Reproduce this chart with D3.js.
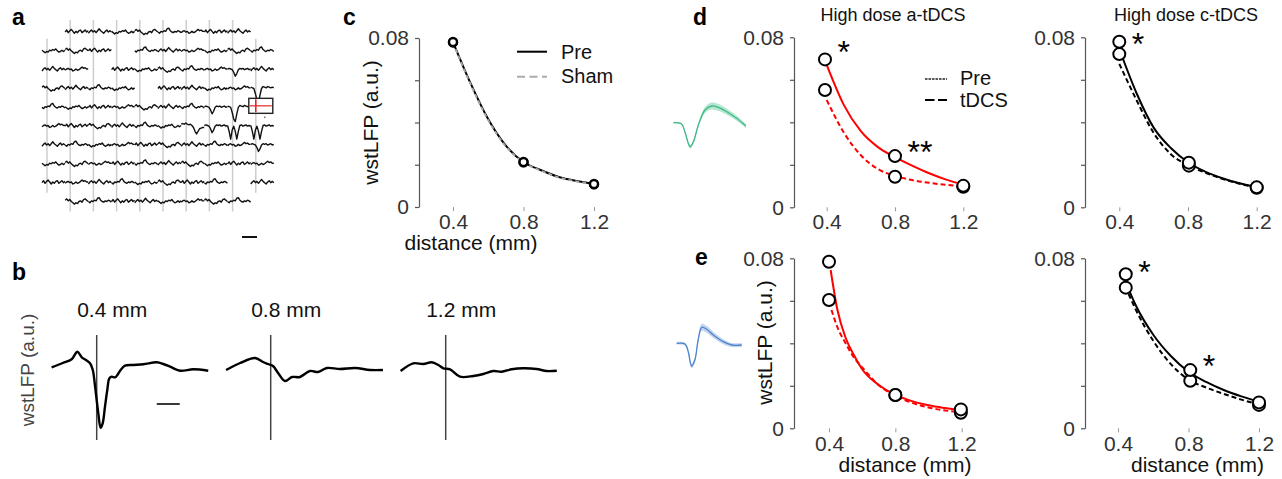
<!DOCTYPE html>
<html>
<head>
<meta charset="utf-8">
<script src="https://cdn.jsdelivr.net/npm/d3@7"></script>
<style>
  body { margin: 0; background: #fff; }
  svg { display: block; }
</style>
</head>
<body>
<script>
// ---------- panel a: array traces (one small template per electrode, up = positive)
var aNoise0 = [0, 1.5, -0.5, 1, 2, 0.5, -1, 0.5, -0.5, 1, 1.5, -0.5, 0.5, 1.5, 0, 1];
var aNoise1 = [-1, 0.5, 1.5, 0, 1, -0.5, 1, 2.5, 1, 0, -1, 0.5, 1.5, 0, 1, 0];
var aNoise2 = [0.5, -0.5, -1.5, -0.5, -1, 0.5, 0, 1, 0.5, 1.5, 0, -1, -0.5, 0.5, -0.5, 0.5];
var aNoise3 = [1, 2, 0.5, 1.5, 0, -1, -2, -1, -1.5, 0, 0.5, -0.5, 1.5, 2, 1, 0];
var aNoise4 = [0, -1, 0.5, 0, 1, 0.5, 2.5, 3, 1, 0, -0.5, 0.5, 0, 1, 0.5, -0.5];
var aNoise5 = [-0.5, 0.5, 1, 0, 0.5, -1, -0.5, 0.5, -0.5, 0, 1, 2, 1, 1.5, 0.5, 0.5];
var aSpike  = [1, 0.5, 0, -4, -9, -11, -5, 0, 1.5, 1, 0.5, 1.5, 1, 0.5, 1, 0.5];
var aDouble = [0.5, -4, -10, -3, 0, -4, -10, -4, 0.5, 1, 0, 0.5, 1, 0, 0.5, 0];
var aDip    = [0.5, 1, 0.5, 0, -2, -5, -3, 0, 1, 0.5, 1, 0, 0.5, 1, 0, 0.5];
var aDrop   = [1.5, 2, 1.5, 2.5, 1.5, 1, 1.5, 0.5, -1, -4, -6, -4, -2, -1.5, -1, -1];
var aLayout = [
  ".01234501.",
  "230.415234",
  "15.02345C1",
  "3142.0125A",
  "4205314CAR",
  "503142DCBB",
  "142503145C",
  "2350413205",
  "05142304.1",
  ".34012534."
];

// ---------- panel b: spike-triggered LFP at three distances
var bLabels = ["0.4 mm", "0.8 mm", "1.2 mm"];
var bTime1 = [-1.96, -1.47, -1.09, -0.84, -0.65, -0.47, -0.29, -0.17, -0.07, 0.07, 0.17, 0.26, 0.36, 0.46,
              0.55, 0.65, 0.80, 0.90, 1.04, 1.23, 1.59, 2.03, 2.61, 2.90, 3.19, 3.62, 4.20, 4.85];
var bAmp1  = [0, 0.43, 0.8, 1.56, 1.0, 0.73, 0.4, -0.27, -1.94, -4.6, -6.04, -5.6, -3.94, -2.27,
              -1.1, -0.94, -1.0, -0.77, -0.27, 0.16, 0.23, 0.3, 0.5, 0.33, 0.06, -0.34, -0.2, -0.34];
var bTime2 = [-1.94, -1.33, -0.68, -0.33, -0.12, 0.1, 0.32, 0.62, 0.93, 1.27, 1.71, 2.06, 2.45, 3.01, 3.67, 4.32, 4.88];
var bAmp2  = [-0.27, 0.43, 0.93, 0.53, 0.33, 0.13, -0.57, -1.37, -0.97, -0.97, -0.37, -0.47, -0.07, -0.17, -0.07, -0.27, -0.27];
var bTime3 = [-1.96, -1.41, -0.97, -0.61, -0.32, -0.1, 0.19, 0.62, 1.2, 1.64, 2.07, 2.43, 2.87, 3.37, 3.95, 4.39, 4.83];
var bAmp3  = [-0.37, 0.4, 0.33, 0.5, 0.23, -0.1, -0.2, -0.94, -0.87, -0.67, -0.37, -0.44, -0.2, -0.1, -0.17, -0.37, -0.34];

// ---------- panels c-e: wstLFP vs distance
var yTicks = [0, 0.02, 0.04, 0.06, 0.08];
var yTickLabels = ["0", "", "", "", "0.08"];
var xTicks = [0.4, 0.8, 1.2];
var xTickLabels = ["0.4", "0.8", "1.2"];
var fitGrid = [0.4, 0.5, 0.6, 0.7, 0.8, 0.9, 1.0, 1.1, 1.2];

var cDist = [0.4, 0.8, 1.2];
var cPre  = [0.0781, 0.0213, 0.0109];
var cSham = [0.0779, 0.0212, 0.0107];
var cFitPre  = [0.0781, 0.0585, 0.0415, 0.0290, 0.0213, 0.0174, 0.0142, 0.0123, 0.0109];
var cFitSham = [0.0778, 0.0581, 0.0411, 0.0287, 0.0211, 0.0172, 0.0140, 0.0121, 0.0107];

var dADist = [0.39, 0.8, 1.2];
var dAPre  = [0.0696, 0.0241, 0.0101];
var dATdcs = [0.0552, 0.0144, 0.0097];
var dAFitPre  = [0.0670, 0.0482, 0.0358, 0.0283, 0.0236, 0.0196, 0.0160, 0.0130, 0.0107];
var dAFitTdcs = [0.0505, 0.0352, 0.0245, 0.0180, 0.0148, 0.0128, 0.0115, 0.0106, 0.0099];

var dCDist = [0.4, 0.805, 1.2];
var dCPre  = [0.0779, 0.0210, 0.0094];
var dCTdcs = [0.0721, 0.0196, 0.0092];
var dCFitPre  = [0.0745, 0.0538, 0.0375, 0.0279, 0.0212, 0.0168, 0.0137, 0.0113, 0.0095];
var dCFitTdcs = [0.0675, 0.0505, 0.0350, 0.0250, 0.0198, 0.0163, 0.0134, 0.0111, 0.0093];

var eADist = [0.4, 0.8, 1.195];
var eAPre  = [0.0784, 0.0157, 0.0089];
var eATdcs = [0.0604, 0.0157, 0.0073];
var eAFitPreX  = [0.41, 0.45, 0.5, 0.55, 0.6, 0.7, 0.8, 0.9, 1.0, 1.1, 1.2];
var eAFitPre   = [0.0745, 0.0560, 0.0426, 0.0345, 0.0278, 0.0204, 0.0157, 0.0128, 0.0108, 0.0095, 0.0085];
var eAFitTdcsX = [0.415, 0.45, 0.5, 0.55, 0.6, 0.7, 0.8, 0.9, 1.0, 1.1, 1.2];
var eAFitTdcs  = [0.0557, 0.0477, 0.0400, 0.0333, 0.0287, 0.0203, 0.0153, 0.0120, 0.0098, 0.0084, 0.0075];

var eCDist = [0.444, 0.81, 1.2];
var eCPre  = [0.0725, 0.0274, 0.0122];
var eCTdcs = [0.0662, 0.0224, 0.0110];
var eCFitPreX  = [0.45, 0.5, 0.6, 0.7, 0.8, 0.9, 1.0, 1.1, 1.2];
var eCFitPre   = [0.0675, 0.0580, 0.0440, 0.0340, 0.0266, 0.0218, 0.0180, 0.0150, 0.0125];
var eCFitTdcsX = [0.46, 0.5, 0.6, 0.7, 0.8, 0.9, 1.0, 1.1, 1.2];
var eCFitTdcs  = [0.0632, 0.0560, 0.0412, 0.0302, 0.0229, 0.0192, 0.0162, 0.0135, 0.0112];

// significance marks: distance, value of star centre
var dAStarDist = [0.39, 0.8],  dAStarVal = [0.0764, 0.0293], dAStarText = ["*", "**"];
var dCStarDist = [0.4],        dCStarVal = [0.0801],         dCStarText = ["*"];
var eCStarDist = [0.444, 0.81], eCStarVal = [0.0768, 0.0328], eCStarText = ["*", "*"];

// mean unit waveforms (inset), with error band half-width
var greenT  = [0, 0.25, 0.35, 0.51, 0.61, 0.76, 0.96, 1.16, 1.36, 1.62, 1.92, 2.2];
var greenV  = [0, -0.13, -0.9, -2.4, -1.9, -0.23, 1.27, 1.67, 1.54, 1.1, 0.44, -0.33];
var greenSd = [0.05, 0.08, 0.15, 0.2, 0.2, 0.2, 0.3, 0.35, 0.35, 0.3, 0.25, 0.2];
var blueT  = [0, 0.25, 0.35, 0.45, 0.55, 0.65, 0.76, 0.91, 1.11, 1.41, 1.67, 1.97];
var blueV  = [0, -0.07, -0.84, -2.27, -1.67, 0.33, 1.6, 1.4, 0.83, 0.16, -0.17, -0.17];
var blueSd = [0.15, 0.15, 0.2, 0.25, 0.25, 0.3, 0.35, 0.35, 0.3, 0.25, 0.2, 0.2];

var font = '"Liberation Sans", Arial, Helvetica, sans-serif';
var W = 1282, H = 479;

var svg = d3.select("body").append("svg")
    .attr("width", W)
    .attr("height", H)
    .style("font-family", font);
svg.append("rect").attr("width", W).attr("height", H).attr("fill", "#fff");

function label(txt, x, y, size, opts) {
    opts = opts || {};
    var t = svg.append("text")
        .attr("x", x).attr("y", y)
        .attr("font-size", size)
        .attr("fill", opts.fill || "#111")
        .attr("font-weight", opts.bold ? "bold" : null)
        .attr("text-anchor", opts.anchor || "start")
        .text(txt);
    if (opts.rotate) t.attr("transform", "rotate(-90," + x + "," + y + ")");
    return t;
}

// panel letters
label("a", 12, 25, 23, {bold: true, fill: "#000"});
label("b", 12, 280, 23, {bold: true, fill: "#000"});
label("c", 343, 25, 23, {bold: true, fill: "#000"});
label("d", 693, 25, 23, {bold: true, fill: "#000"});
label("e", 695, 265, 23, {bold: true, fill: "#000"});

// ================= panel a
var templates = {
    "0": aNoise0, "1": aNoise1, "2": aNoise2, "3": aNoise3, "4": aNoise4, "5": aNoise5,
    "A": aSpike, "B": aDouble, "C": aDip, "D": aDrop
};
var aRowY = d3.scaleLinear().domain([0, 9]).range([32, 201.5]);
var aColX = d3.scaleLinear().domain([0, 9]).range([42, 250.8]);
var aGrid = svg.append("g");

d3.range(10).forEach(function (c) {
    var edge = (c === 0 || c === 9);
    aGrid.append("line")
        .attr("x1", aColX(c) + 5).attr("x2", aColX(c) + 5)
        .attr("y1", aRowY(edge ? 1 : 0) - 12)
        .attr("y2", aRowY(edge ? 8 : 9) + 10)
        .attr("stroke", "#cdcdcd")
        .attr("stroke-width", 1.5);
});

aLayout.forEach(function (row, r) {
    row.split("").forEach(function (ch, c) {
        var x0 = aColX(c), yc = aRowY(r);
        if (ch === ".") return;
        if (ch === "R") {
            aGrid.append("rect")
                .attr("x", x0 - 2).attr("y", yc - 9)
                .attr("width", 24).attr("height", 15)
                .attr("fill", "#fff").attr("stroke", "#222").attr("stroke-width", 1.4);
            aGrid.append("line")
                .attr("x1", x0 - 1).attr("x2", x0 + 21)
                .attr("y1", yc - 1.5).attr("y2", yc - 1.5)
                .attr("stroke", "#e8242a").attr("stroke-width", 1.2);
            aGrid.append("line")
                .attr("x1", x0 + 5).attr("x2", x0 + 5)
                .attr("y1", yc - 8).attr("y2", yc + 5)
                .attr("stroke", "#e8242a").attr("stroke-width", 1.6);
            aGrid.append("circle")
                .attr("cx", x0 + 14).attr("cy", yc + 10).attr("r", 0.8).attr("fill", "#555");
            return;
        }
        var vals = templates[ch];
        var xs = d3.scaleLinear().domain([0, vals.length - 1]).range([x0, x0 + 23]);
        var ys = d3.scaleLinear().domain([-1, 1]).range([yc + 1.3, yc - 1.3]);
        aGrid.append("path")
            .attr("d", d3.line().x(function (d, i) { return xs(i); }).y(function (d) { return ys(d); })(vals))
            .attr("fill", "none")
            .attr("stroke", "#111")
            .attr("stroke-width", 1.4)
            .attr("stroke-linejoin", "round");
    });
});
// time scale bar
aGrid.append("line").attr("x1", 242).attr("x2", 257).attr("y1", 237).attr("y2", 237)
    .attr("stroke", "#111").attr("stroke-width", 2);

// ================= panel b
var bOrigins = [96.7, 270.7, 445.7];
var bTimes = [bTime1, bTime2, bTime3];
var bAmps = [bAmp1, bAmp2, bAmp3];
var bY = d3.scaleLinear().domain([0, 1]).range([367.3, 357.3]);

label("wstLFP (a.u.)", 34, 370, 19, {rotate: true, anchor: "middle", fill: "#444"});

bOrigins.forEach(function (o, k) {
    var bx = d3.scaleLinear().domain([0, 1]).range([o, o + 23]);
    svg.append("line").attr("x1", o).attr("x2", o).attr("y1", 335).attr("y2", 440)
        .attr("stroke", "#444").attr("stroke-width", 1.5);
    var pts = bTimes[k].map(function (t, i) { return [bx(t), bY(bAmps[k][i])]; });
    svg.append("path")
        .attr("d", d3.line().curve(d3.curveCatmullRom.alpha(0.5))(pts))
        .attr("fill", "none").attr("stroke", "#000").attr("stroke-width", 2.4)
        .attr("stroke-linejoin", "round");
    label(bLabels[k], o + 15.5, 317, 21, {anchor: "middle", fill: "#111"});
    if (k === 0) {
        svg.append("line").attr("x1", bx(2.61)).attr("x2", bx(3.61))
            .attr("y1", bY(-3.67)).attr("y2", bY(-3.67))
            .attr("stroke", "#222").attr("stroke-width", 1.8);
    }
});

// ================= panels c, d, e
function distPanel(o) {
    var x = d3.scaleLinear().domain([0.4, 1.2]).range(o.xr);
    var y = d3.scaleLinear().domain([0, 0.08]).range(o.yr);
    var g = svg.append("g");

    var ya = g.append("g")
        .attr("transform", "translate(" + o.ax + ",0)")
        .call(d3.axisLeft(y).tickValues(yTicks).tickSize(4).tickSizeOuter(0).tickPadding(6)
            .tickFormat(function (d, i) { return yTickLabels[i]; }));
    ya.selectAll("path, line").attr("stroke", "#555").attr("stroke-width", 1.2);
    ya.selectAll("text").attr("font-size", 21).attr("fill", "#333").attr("font-family", font);

    var xa = g.append("g")
        .attr("transform", "translate(0," + o.yr[0] + ")")
        .call(d3.axisBottom(x).tickValues(xTicks).tickSize(4).tickPadding(o.xpad || 3)
            .tickFormat(function (d, i) { return xTickLabels[i]; }));
    xa.select(".domain").remove();
    xa.selectAll("line").attr("stroke", "#999").attr("stroke-width", 1);
    xa.selectAll("text").attr("font-size", 21).attr("fill", "#333").attr("font-family", font);

    o.fits.forEach(function (f) {
        var pts = f.x.map(function (v, i) { return [x(v), y(f.y[i])]; });
        g.append("path")
            .attr("d", d3.line().curve(d3.curveMonotoneX)(pts))
            .attr("fill", "none")
            .attr("stroke", f.color)
            .attr("stroke-width", f.width)
            .attr("stroke-dasharray", f.dash || null);
    });

    o.points.forEach(function (p) {
        g.selectAll(null).data(p.y).enter().append("circle")
            .attr("cx", function (d, i) { return x(p.x[i]); })
            .attr("cy", function (d) { return y(d); })
            .attr("r", o.r)
            .attr("fill", "#fff")
            .attr("stroke", "#000")
            .attr("stroke-width", o.sw);
    });

    (o.stars || []).forEach(function (s) {
        s.text.forEach(function (t, i) {
            g.append("text")
                .attr("x", x(s.x[i]) + 12.5)
                .attr("y", y(s.y[i]) + 18)
                .attr("font-size", 32)
                .attr("fill", "#000")
                .text(t);
        });
    });
}

distPanel({
    ax: 419, xr: [453, 594], yr: [207, 38], r: 4, sw: 2.4,
    fits: [
        {x: fitGrid, y: cFitPre, color: "#000", width: 2},
        {x: fitGrid, y: cFitSham, color: "#a8a8a8", width: 1.8, dash: "4,3"}
    ],
    points: [{x: cDist, y: cSham}, {x: cDist, y: cPre}]
});
distPanel({
    ax: 794, xr: [826.7, 963.3], yr: [207.3, 37.3], r: 6, sw: 2,
    fits: [
        {x: fitGrid, y: dAFitTdcs, color: "#ff0000", width: 2, dash: "5,3"},
        {x: fitGrid, y: dAFitPre, color: "#ff0000", width: 2}
    ],
    points: [{x: dADist, y: dATdcs}, {x: dADist, y: dAPre}],
    stars: [{x: dAStarDist, y: dAStarVal, text: dAStarText}]
});
distPanel({
    ax: 1085, xr: [1119.3, 1256.7], yr: [207.3, 37.3], r: 6, sw: 2,
    fits: [
        {x: fitGrid, y: dCFitTdcs, color: "#000", width: 2, dash: "5,3"},
        {x: fitGrid, y: dCFitPre, color: "#000", width: 2}
    ],
    points: [{x: dCDist, y: dCTdcs}, {x: dCDist, y: dCPre}],
    stars: [{x: dCStarDist, y: dCStarVal, text: dCStarText}]
});
distPanel({
    ax: 794, xr: [829, 961.7], yr: [428.3, 258.3], r: 6, sw: 2, xpad: 4,
    fits: [
        {x: eAFitTdcsX, y: eAFitTdcs, color: "#ff0000", width: 2, dash: "5,3"},
        {x: eAFitPreX, y: eAFitPre, color: "#ff0000", width: 2}
    ],
    points: [{x: eADist, y: eATdcs}, {x: eADist, y: eAPre}]
});
distPanel({
    ax: 1085, xr: [1118, 1259], yr: [428.3, 258.3], r: 6, sw: 2, xpad: 4,
    fits: [
        {x: eCFitTdcsX, y: eCFitTdcs, color: "#000", width: 2, dash: "5,3"},
        {x: eCFitPreX, y: eCFitPre, color: "#000", width: 2}
    ],
    points: [{x: eCDist, y: eCTdcs}, {x: eCDist, y: eCPre}],
    stars: [{x: eCStarDist, y: eCStarVal, text: eCStarText}]
});

// axis titles
label("wstLFP (a.u.)", 378, 122.5, 21, {rotate: true, anchor: "middle"});
label("distance (mm)", 471, 250, 21, {anchor: "middle"});
label("wstLFP (a.u.)", 772, 342.5, 21, {rotate: true, anchor: "middle"});
label("distance (mm)", 905, 472, 21, {anchor: "middle"});
label("distance (mm)", 1197.5, 472, 21, {anchor: "middle"});
label("High dose a-tDCS", 893, 21, 18, {anchor: "middle"});
label("High dose c-tDCS", 1186, 21, 18, {anchor: "middle"});

// legend c
svg.append("line").attr("x1", 517).attr("x2", 547).attr("y1", 51.7).attr("y2", 51.7)
    .attr("stroke", "#000").attr("stroke-width", 2);
svg.append("line").attr("x1", 517).attr("x2", 547).attr("y1", 76.7).attr("y2", 76.7)
    .attr("stroke", "#aaa").attr("stroke-width", 2).attr("stroke-dasharray", "8,4.5");
label("Pre", 561, 59.3, 20);
label("Sham", 561, 83.3, 20);

// legend d
svg.append("line").attr("x1", 925).attr("x2", 947).attr("y1", 79).attr("y2", 79)
    .attr("stroke", "#222").attr("stroke-width", 1.4).attr("stroke-dasharray", "2.5,1");
svg.append("line").attr("x1", 925).attr("x2", 947).attr("y1", 100).attr("y2", 100)
    .attr("stroke", "#000").attr("stroke-width", 1.8).attr("stroke-dasharray", "9.5,3.5");
label("Pre", 960, 85, 20);
label("tDCS", 960, 106.7, 20);

// ================= inset unit waveforms
function inset(t, v, sd, ox, oy, line, band) {
    var ix = d3.scaleLinear().domain([0, 1]).range([ox, ox + 33]);
    var iy = d3.scaleLinear().domain([0, 1]).range([oy, oy - 10]);
    var idx = d3.range(t.length);
    svg.append("path")
        .attr("d", d3.area().curve(d3.curveCatmullRom)
            .x(function (i) { return ix(t[i]); })
            .y0(function (i) { return iy(v[i] - sd[i]); })
            .y1(function (i) { return iy(v[i] + sd[i]); })(idx))
        .attr("fill", band);
    svg.append("path")
        .attr("d", d3.line().curve(d3.curveCatmullRom)
            .x(function (i) { return ix(t[i]); })
            .y(function (i) { return iy(v[i]); })(idx))
        .attr("fill", "none").attr("stroke", line).attr("stroke-width", 1.3);
}
inset(greenT, greenV, greenSd, 673.3, 122.7, "#3dba86", "#b5e6cf");
inset(blueT, blueV, blueSd, 676.7, 343.3, "#4d83cc", "#c3d5ee");
</script>
</body>
</html>
